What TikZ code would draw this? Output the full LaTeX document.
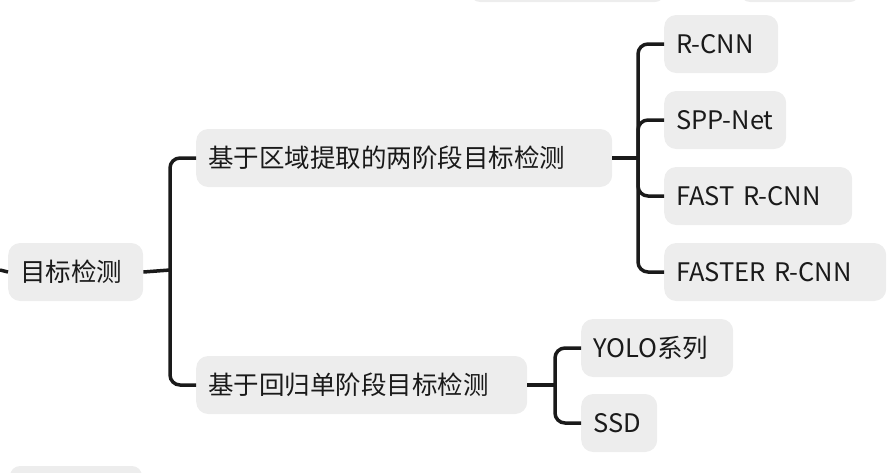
\documentclass[tikz,border=0pt]{standalone}
\usepackage{fontspec}
\setmainfont{Noto Sans CJK SC}
\usetikzlibrary{calc}
\definecolor{boxgray}{HTML}{EDEDED}
\definecolor{ink}{HTML}{1A1A1A}
\tikzset{
  topic/.style={fill=boxgray, rounded corners=12pt, text=ink, anchor=west,
    minimum height=58pt, inner xsep=12pt, align=left, font=\fontsize{25.5pt}{29pt}\selectfont},
  conn/.style={draw=ink, line width=3.5pt},
}
\begin{document}
\begin{tikzpicture}[x=1pt,y=-1pt]
    \useasboundingbox (0,0) rectangle (890,472);
    % cut-off neighbours
    \fill[boxgray, rounded corners=10pt] (470,-20) rectangle (665,2);
    \fill[boxgray, rounded corners=10pt] (740,-20) rectangle (860,2);
    \fill[boxgray, rounded corners=10pt] (10,466) rectangle (142,492);

    \node[topic, text width=111pt] (root) at (8,272) {目标检测};
    \node[topic, text width=392pt] (two) at (196,158) {基于区域提取的两阶段目标检测};
    \node[topic, text width=307pt] (one) at (196,385) {基于回归单阶段目标检测};

    \node[topic, text width=90pt] (rcnn) at (664,44) {R-CNN};
    \node[topic, text width=98pt] (spp) at (664,120) {SPP-Net};
    \node[topic, text width=164pt] (fast) at (664,196) {FAST R-CNN};
    \node[topic, text width=198pt] (faster) at (664,272) {FASTER R-CNN};
    \node[topic, text width=128pt] (yolo) at (581,348) {YOLO系列};
    \node[topic, text width=52pt] (ssd) at (581,423) {SSD};

    \coordinate (in) at (0,270);
    \coordinate (J1) at (170,270);
    \coordinate (J2) at (638,158);
    \coordinate (J3) at (555,385);

    \draw[conn] (in) -- (root.west);
    \draw[conn] (root.east) -- (J1);
    \draw[conn, rounded corners=10pt] (J1) |- (two.west);
    \draw[conn, rounded corners=10pt] (J1) |- (one.west);

    \draw[conn] (two.east) -- (J2);
    \foreach \n in {rcnn,spp,fast,faster}
      \draw[conn, rounded corners=10pt] (J2) |- (\n.west);

    \draw[conn] (one.east) -- (J3);
    \foreach \n in {yolo,ssd}
      \draw[conn, rounded corners=10pt] (J3) |- (\n.west);
\end{tikzpicture}
\end{document}
